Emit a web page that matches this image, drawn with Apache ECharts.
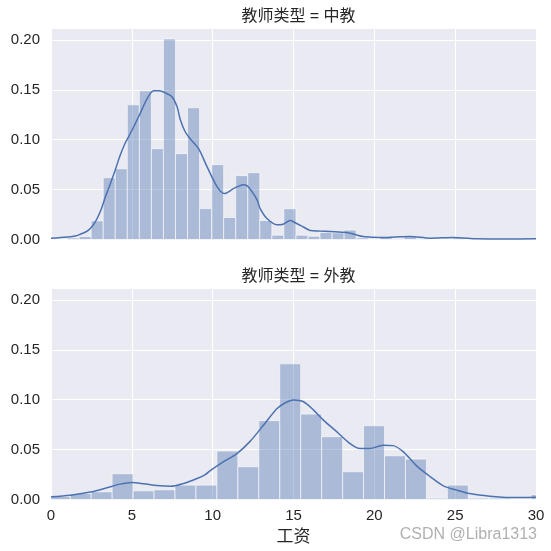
<!DOCTYPE html>
<html><head><meta charset="utf-8">
<script src="https://cdn.jsdelivr.net/npm/echarts@6/dist/echarts.min.js"></script>
<style>html,body{margin:0;padding:0;background:#fff}#c{width:551px;height:551px}</style>
</head><body><div id="c"></div>
<script>
const panelTitles = ['教师类型 = 中教', '教师类型 = 外教'];
const xLabel = '工资';
const xTicks = [0, 5, 10, 15, 20, 25, 30];
const yTicks = [0, 0.05, 0.10, 0.15, 0.20];

// Top panel (中教) histogram: bins start and width, densities
const topBinStart = 0.25;
const topBinWidth = 0.745;
const topHeights = [0, 0.0015, 0.003, 0.0187, 0.0619, 0.0709, 0.135, 0.149, 0.091, 0.201,
  0.086, 0.132, 0.031, 0.075, 0.022, 0.064, 0.067, 0.019, 0.0043, 0.0308,
  0.0043, 0.0033, 0.007, 0.0067, 0.0094, 0.0017, 0, 0.002, 0.001, 0.0027,
  0.001, 0, 0, 0.0015];
const topKde = [[0,0.0012],[1,0.0025],[1.5,0.0035],[1.81,0.0053],[2.2,0.008],[2.43,0.011],[2.75,0.018],
  [3.05,0.028],[3.35,0.042],[3.67,0.056],[4.0,0.071],[4.29,0.085],[4.6,0.097],[4.9,0.106],[5.42,0.123],
  [5.94,0.141],[6.35,0.149],[6.7,0.149],[7.07,0.147],[7.48,0.143],[7.8,0.133],[8.0,0.12],[8.3,0.108],
  [8.61,0.101],[9.13,0.091],[9.65,0.073],[10.27,0.053],[10.72,0.046],[11.29,0.051],[11.9,0.055],
  [12.12,0.054],[12.43,0.048],[12.74,0.04],[12.94,0.031],[13.36,0.021],[13.98,0.0147],[14.3,0.015],
  [14.8,0.019],[15.2,0.016],[15.62,0.0125],[16.04,0.009],[16.6,0.0085],[17.27,0.008],[18.3,0.007],
  [18.8,0.005],[19.3,0.003],[20.37,0.002],[21.3,0.0025],[22.2,0.003],[23.45,0.0013],[24.9,0.002],
  [26.4,0.0007],[28,0.0005],[30,0.0007]];

// Bottom panel (外教) histogram
const botBinStart = -0.106;
const botBinWidth = 1.296;
const botHeights = [0.003, 0.006, 0.0077, 0.0258, 0.0087, 0.0097, 0.0144, 0.0144, 0.0485, 0.0328,
  0.079, 0.136, 0.0856, 0.0629, 0.0278, 0.0739, 0.0438, 0.0405, 0.0013, 0.0144,
  0.0013, 0.0013, 0, 0.005];
const botKde = [[0,0.0027],[1.19,0.0043],[2.53,0.0077],[3.46,0.0117],[4.28,0.0154],[5.0,0.017],
  [5.73,0.0158],[6.55,0.014],[7.38,0.0132],[8.2,0.016],[9.03,0.021],[9.54,0.025],[9.85,0.029],
  [10.68,0.038],[11.5,0.046],[12.3,0.058],[13.15,0.0746],[13.97,0.091],[14.5,0.097],[15.0,0.0997],
  [15.62,0.098],[16.24,0.0896],[16.85,0.0796],[17.67,0.068],[18.5,0.056],[19.1,0.051],[19.72,0.051],
  [20.54,0.0545],[21.16,0.054],[21.78,0.048],[22.6,0.034],[23.45,0.023],[24.27,0.0137],[25.1,0.0094],
  [25.9,0.006],[27.15,0.0033],[28.4,0.002],[30,0.0023]];

const FONT = "'Liberation Sans','Noto Sans CJK SC',sans-serif";
const TXT = '#262626';
const BLUE = '#4C72B0';

function bins(start, width, heights) {
  return heights.map((h, i) => [start + i * width, start + (i + 1) * width, h]);
}

function renderBar(params, api) {
  const cs = params.coordSys;
  const p0 = api.coord([api.value(0), api.value(2)]);
  const p1 = api.coord([api.value(1), 0]);
  let x0 = Math.max(p0[0], cs.x), x1 = Math.min(p1[0], cs.x + cs.width);
  if (x1 <= x0 || api.value(2) <= 0) return;
  return {
    type: 'rect',
    shape: { x: x0, y: p0[1], width: x1 - x0, height: p1[1] - p0[1] },
    style: { fill: 'rgba(76,114,176,0.4)', stroke: 'rgba(255,255,255,0.75)', lineWidth: 0.8 }
  };
}

const yMax = 0.212;
const grids = [
  { left: 51, top: 28, width: 485, height: 211.5, show: true, backgroundColor: '#EAEAF2', borderWidth: 0 },
  { left: 51, top: 288, width: 485, height: 211.5, show: true, backgroundColor: '#EAEAF2', borderWidth: 0 }
];
function xAxis(i, showLabels) {
  return {
    type: 'value', gridIndex: i, min: xTicks[0], max: xTicks[xTicks.length - 1], interval: 5,
    axisLine: { show: false }, axisTick: { show: false },
    splitLine: { show: true, lineStyle: { color: '#ffffff', width: 1 } },
    axisLabel: { show: showLabels, color: TXT, fontSize: 15, fontFamily: FONT, margin: 9 },
    name: showLabels ? xLabel : '', nameLocation: 'middle', nameGap: 29,
    nameTextStyle: { color: TXT, fontSize: 17, fontFamily: FONT }
  };
}
function yAxis(i) {
  return {
    type: 'value', gridIndex: i, min: 0, max: yMax, interval: 0.05,
    axisLine: { show: false }, axisTick: { show: false },
    splitLine: { show: true, lineStyle: { color: '#ffffff', width: 1 } },
    axisLabel: { color: TXT, fontSize: 15, fontFamily: FONT, margin: 11, showMaxLabel: false,
      formatter: v => yTicks.some(t => Math.abs(t - v) < 1e-9) ? v.toFixed(2) : '' }
  };
}

const chart = echarts.init(document.getElementById('c'), null, { renderer: 'canvas' });
chart.setOption({
  animation: false,
  backgroundColor: '#ffffff',
  title: [
    { text: panelTitles[0], left: 293.5, top: 4, textAlign: 'center',
      textStyle: { color: TXT, fontSize: 16, fontWeight: 'normal', fontFamily: FONT } },
    { text: panelTitles[1], left: 293.5, top: 264, textAlign: 'center',
      textStyle: { color: TXT, fontSize: 16, fontWeight: 'normal', fontFamily: FONT } }
  ],
  grid: grids,
  xAxis: [xAxis(0, false), xAxis(1, true)],
  yAxis: [yAxis(0), yAxis(1)],
  graphic: [{
    type: 'text', right: 14, top: 527,
    style: { text: 'CSDN @Libra1313', fill: 'rgba(150,150,150,0.75)', fontSize: 16, fontFamily: FONT }
  }],
  series: [
    { type: 'custom', xAxisIndex: 0, yAxisIndex: 0, renderItem: renderBar,
      data: bins(topBinStart, topBinWidth, topHeights), z: 2 },
    { type: 'line', xAxisIndex: 0, yAxisIndex: 0, data: topKde, smooth: 0.3, showSymbol: false,
      lineStyle: { color: BLUE, width: 1.5 }, z: 3 },
    { type: 'custom', xAxisIndex: 1, yAxisIndex: 1, renderItem: renderBar,
      data: bins(botBinStart, botBinWidth, botHeights), z: 2 },
    { type: 'line', xAxisIndex: 1, yAxisIndex: 1, data: botKde, smooth: 0.3, showSymbol: false,
      lineStyle: { color: BLUE, width: 1.5 }, z: 3 }
  ]
});
</script></body></html>
